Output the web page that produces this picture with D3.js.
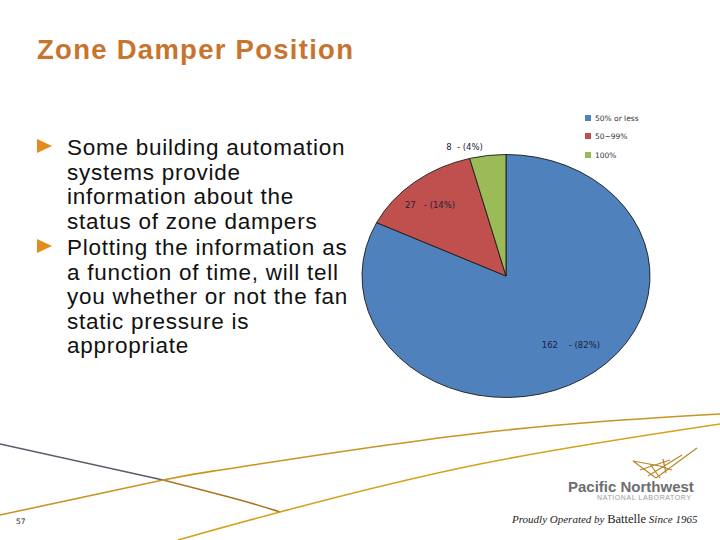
<!DOCTYPE html>
<html><head><meta charset="utf-8">
<script src="https://cdn.jsdelivr.net/npm/d3@7"></script>
<style>body{margin:0;background:#fff}svg{display:block}</style>
</head><body>
<svg id="c" width="720" height="540"></svg>
<script>
const categories = ["50% or less", "50~99%", "100%"];
const values = [162, 27, 8];
const percents = ["82%", "14%", "4%"];
const colors = ["#4F81BD", "#C0504D", "#9BBB59"];
const bullets = [
  ["Some building automation", "systems provide", "information about the", "status of zone dampers"],
  ["Plotting the information as", "a function of time, will tell", "you whether or not the fan", "static pressure is", "appropriate"]
];

const svg = d3.select("#c");

// Title
svg.append("text").attr("x", 37).attr("y", 59)
  .attr("font-family", "Liberation Sans, Arial, sans-serif").attr("font-weight", "bold")
  .attr("font-size", 27.5).attr("fill", "#C8742E")
  .attr("textLength", 316).attr("lengthAdjust", "spacing")
  .text("Zone Damper Position");

// Bullets
let y0 = 155;
const lh = 24.5;
bullets.forEach((para, pi) => {
  svg.append("path")
    .attr("d", `M37,${y0-16}L52,${y0-9}L37,${y0-2}Z`)
    .attr("fill", "#E38B1E");
  para.forEach((line, li) => {
    svg.append("text").attr("x", 67).attr("y", y0 + li * lh)
      .attr("font-family", "Liberation Sans, Arial, sans-serif")
      .attr("font-size", 22.5).attr("letter-spacing", 0.75)
      .attr("fill", "#111").text(line);
  });
  y0 += (para.length - 1) * lh + 26.5;
});

// Pie (elliptical)
const cx = 506, cy = 276, rx = 144, ry = 121.5;
const pie = d3.pie().sort(null).value(d => d)(values);
const arc = d3.arc().innerRadius(0).outerRadius(rx);
const g = svg.append("g").attr("transform", `translate(${cx},${cy}) scale(1,${ry/rx})`);
g.selectAll("path").data(pie).join("path")
  .attr("d", arc).attr("fill", (d, i) => colors[i])
  .attr("stroke", "#1a1a1a").attr("stroke-width", 0.9)
  .attr("vector-effect", "non-scaling-stroke");

// Labels
const total = d3.sum(values);
pie.forEach((d, i) => {
  const mid = (d.startAngle + d.endAngle) / 2;
  const frac = d.value / total;
  const outside = frac < 0.05;
  const k = outside ? 1.1 : (frac > 0.5 ? 0.72 : 0.8);
  const px = cx + Math.sin(mid) * rx * k + (frac > 0.5 ? 10 : -3);
  const py = cy - Math.cos(mid) * ry * k + (frac > 0.5 ? -5 : 4);
  const t = svg.append("text").attr("x", px).attr("y", py + 3)
    .attr("text-anchor", outside ? "end" : "middle")
    .attr("font-family", "DejaVu Sans, sans-serif").attr("font-size", 8.5)
    .attr("fill", "#1d2040");
  const gap = outside ? "\u00a0\u00a0" : (frac > 0.5 ? "\u00a0\u00a0\u00a0\u00a0" : "\u00a0\u00a0\u00a0");
  t.text(d.value + gap + "- (" + percents[i] + ")");
});

// Legend
const leg = svg.append("g").attr("transform", "translate(585,115)");
const ly = [0, 18, 37];
categories.forEach((c, i) => {
  leg.append("rect").attr("x", 0).attr("y", ly[i]).attr("width", 6).attr("height", 6).attr("fill", colors[i]);
  leg.append("text").attr("x", 10).attr("y", ly[i] + 6)
    .attr("font-family", "DejaVu Sans, sans-serif").attr("font-size", 7.5)
    .attr("fill", "#333").text(c);
});

// Footer decoration
const line = d3.line().curve(d3.curveNatural);
svg.append("path").attr("d", line([[0,444],[163,480]])).attr("stroke", "#5c5c6a").attr("stroke-width", 1.6).attr("fill", "none");
svg.append("path").attr("d", line([[163,480],[240,500],[280,512]])).attr("stroke", "#A97526").attr("stroke-width", 1.6).attr("fill", "none");
svg.append("path").attr("d", line([[0,515],[163,480],[240,467],[480,433],[720,414]])).attr("stroke", "#C89522").attr("stroke-width", 1.6).attr("fill", "none");
svg.append("path").attr("d", line([[178,540],[280,512],[480,464],[720,424]])).attr("stroke", "#D4A21E").attr("stroke-width", 1.6).attr("fill", "none");

// Page number
svg.append("text").attr("x", 16).attr("y", 524).attr("font-family", "DejaVu Sans, sans-serif")
  .attr("font-size", 7.5).attr("fill", "#222").text("57");

// Logo mark
const lg = svg.append("g").attr("stroke", "#B8862A").attr("fill", "none").attr("stroke-width", 1.2);
[[[633,461],[656,478]],[[656,478],[697,448]],[[633,461],[660,466],[672,470]],[[640,470],[670,460]],[[648,476],[682,455]],[[650,464],[660,478]],[[663,459],[666,473]]]
  .forEach(p => lg.append("path").attr("d", d3.line()(p)));
svg.append("text").attr("x", 568).attr("y", 492).attr("font-family", "Liberation Sans, Arial, sans-serif")
  .attr("font-weight", "bold").attr("font-size", 15).attr("fill", "#6d6e71").text("Pacific Northwest");
svg.append("text").attr("x", 597).attr("y", 500).attr("font-family", "Liberation Sans, Arial, sans-serif")
  .attr("font-size", 7).attr("letter-spacing", 0.6).attr("fill", "#9a9a9a").text("NATIONAL LABORATORY");
const pt = svg.append("text").attr("x", 512).attr("y", 523).attr("font-family", "Liberation Serif, Times New Roman, serif")
  .attr("font-size", 11).attr("fill", "#222");
pt.append("tspan").attr("font-style", "italic").text("Proudly Operated by ");
pt.append("tspan").attr("font-size", 12.5).text("Battelle");
pt.append("tspan").attr("font-style", "italic").text(" Since 1965");
</script>
</body></html>
